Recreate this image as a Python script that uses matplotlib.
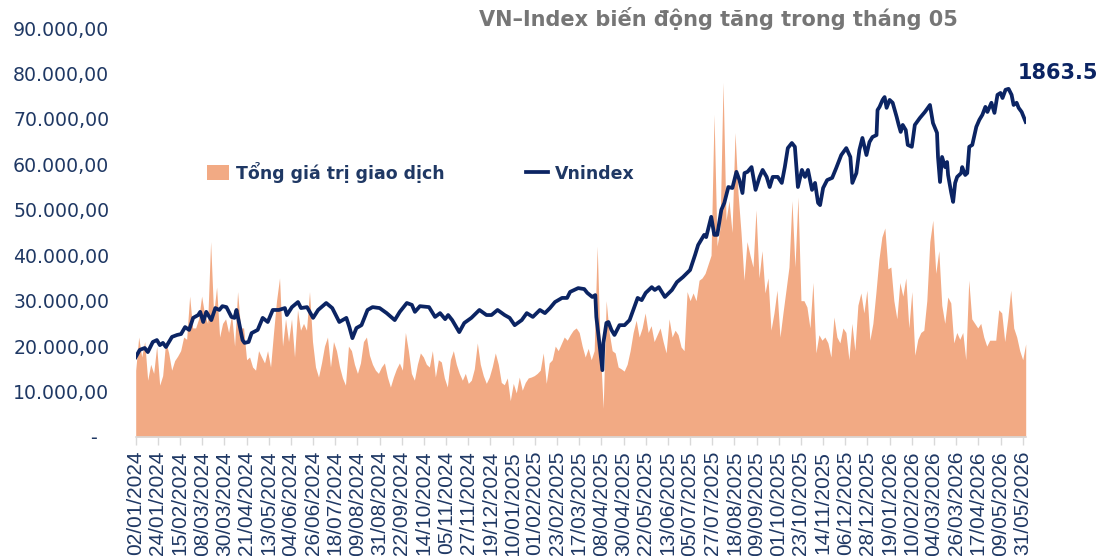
import numpy as np
import pandas as pd
import matplotlib
matplotlib.use("Agg")
import matplotlib.pyplot as plt
from matplotlib.patches import Patch
from matplotlib.lines import Line2D

# ---- data ----
title = "VN–Index biến động tăng trong tháng 05"
label_gtgd = "Tổng giá trị giao dịch"
label_vn = "Vnindex"
start_date = "2024-01-02"
end_date = "2026-06-03"

# trading value (thousand units of the left axis), sampled evenly over the period
gtgd = [14.7, 22, 17.6, 21, 12.5, 16, 14, 20, 11.4, 13.5, 21, 18.5, 14.7, 16.8, 17.8, 19,
        22, 21.5, 31, 24, 24, 26, 31, 27, 25, 43, 27, 33, 22, 25, 26, 23, 27, 20, 32, 24,
        24, 17, 17.6, 15.4, 14.7, 19, 17.6, 16.3, 19, 15.4, 23, 30,
        35, 20, 26, 21, 26, 17.6, 28, 23.5, 25, 23.5, 32, 21, 15.4, 13.2, 16.3, 20, 22, 15.4,
        21, 19, 15.5, 13, 11.4, 20, 19, 16, 14, 16.3, 21, 22, 18, 16, 14.7, 14, 15.4, 16.3,
        13.2, 11, 13.2, 15, 16.3, 14.7, 23, 19, 14, 12.5, 16, 18.5, 17.6, 16,
        15.4, 19, 13.2, 17, 16.5, 13, 11, 17, 19, 16, 14, 12.5, 14, 11.8, 12.5, 15, 20.7, 16,
        13.5, 11.8, 13.2, 15.5, 18.5, 16, 12, 11.5, 13, 8, 11.8, 9.7, 13.2, 10.3, 12, 13,
        13.2, 13.5, 14, 14.7, 18.5, 11.8, 16.3, 17, 20, 19, 20.5, 22, 21.3, 22.5, 23.5, 24,
        23, 20, 17.6, 19.5, 17, 19, 42, 20, 6.3, 30, 23, 19, 18.5, 15.4, 15, 14.5, 16, 19,
        23, 25.7, 22, 24, 27.3, 23, 24.5, 21, 22.5, 24, 21, 18.5, 26, 22, 23.5, 22.5, 19.8,
        19, 32, 30, 31.7, 30, 34.5, 35, 36, 38, 40, 71, 42, 46, 78, 47.7,
        52, 45, 67, 53.7, 45, 34.5, 43, 40, 37.4, 50, 35, 41, 31.7, 35, 23.5, 27.3, 32.3, 22,
        27.3, 32.3, 37.4, 52, 37.4, 52.8, 30, 30, 28.6, 24, 34, 18.5, 22.5, 21.3, 22, 20.7,
        17.6, 26.4, 22, 20.7, 24, 23, 17, 25, 19, 29, 31.7, 27.3, 32.3, 21.3, 25, 31.7,
        39, 44, 46, 37, 37.4, 30, 26, 34, 31, 35, 24, 32, 18, 21.5, 23, 23.5, 30, 43, 47.7,
        36, 41, 29, 25, 30.8, 29.5, 20.7, 23, 21.5, 23, 17, 34.5, 26, 25, 24, 25, 22, 20,
        21.3, 21.3, 21.3, 28, 27.3, 21, 26, 32.3, 24, 22, 19, 17, 20.5]

# VN-Index: days after start_date and closing level
vn_days = [0, 4, 9, 12, 17, 21, 24, 27, 30, 36, 41, 45, 49, 53, 57, 62, 64, 67, 70, 75, 79,
           83, 86, 90, 95, 98, 100, 103, 106, 108, 112, 115, 121, 126, 131, 136, 142,
           148, 150, 155, 161, 164, 170, 176, 181, 189, 195, 202, 209, 212, 215, 219, 224,
           230, 235, 242, 249, 257, 262, 269, 274, 277, 282, 291,
           297, 302, 307, 310, 314, 321, 326, 333, 341, 348, 353, 359, 366, 371, 376, 383,
           388, 394, 401, 406, 411, 416, 423, 428, 431, 435, 439,
           445, 448, 453, 456, 457, 460, 463, 464, 467, 469, 472, 475, 480, 485, 490, 493,
           498, 502, 506, 512, 515, 519, 525, 532, 537, 543, 550, 555, 558, 561, 564, 566,
           571, 574, 577, 581, 584, 588,
           592, 596, 599, 602, 604, 607, 611, 615, 619, 622, 626, 629, 632, 637, 641, 644,
           647, 651, 654, 657, 661, 664, 667, 671, 674, 677, 679, 682, 686, 691, 695, 700,
           705, 709, 711, 715, 718, 721, 725, 728, 731, 735, 736,
           738, 741, 743, 745, 748, 751, 755, 757, 759, 761, 764, 766, 770, 771, 773, 778,
           783, 788, 791, 795, 796, 798, 800, 803, 805, 806, 809, 811, 813, 815, 819, 820,
           823, 825, 827, 830, 834, 837, 840, 843, 845, 849, 852, 855, 858, 860, 863, 866,
           869, 871, 874, 876, 879, 881, 883]
vn_values = [1121, 1144, 1150, 1137, 1169, 1175, 1159, 1166, 1153, 1185, 1191, 1194, 1216,
             1207, 1245, 1254, 1264, 1232, 1264, 1238, 1276, 1270, 1282, 1279, 1248, 1245,
             1270, 1222, 1175, 1166, 1169, 1197, 1207, 1245, 1232, 1270, 1270,
             1276, 1254, 1279, 1295, 1276, 1279, 1245, 1270, 1292, 1276, 1232, 1245, 1216,
             1181, 1213, 1222, 1270, 1279, 1276, 1260, 1238, 1264, 1292, 1286, 1264, 1282, 1279,
             1248, 1260, 1241, 1254, 1238, 1200, 1229, 1245, 1270, 1254, 1254, 1270, 1254,
             1245, 1222, 1238, 1260, 1248, 1270, 1260, 1276, 1295, 1308, 1308, 1327, 1333, 1339,
             1336, 1324, 1311, 1317, 1248, 1166, 1080, 1166, 1229, 1232, 1207, 1191, 1222,
             1222, 1238, 1264, 1308, 1301, 1324, 1342, 1333, 1342, 1311, 1333, 1358, 1374,
             1396, 1444, 1475, 1491, 1507, 1500, 1564, 1507, 1507, 1586, 1608, 1658,
             1655, 1706, 1680, 1639, 1702, 1706, 1721, 1649, 1690, 1712, 1690, 1658, 1690,
             1690, 1671, 1721, 1781, 1797, 1785, 1658, 1712, 1690, 1712, 1649, 1671, 1608,
             1601, 1655, 1680, 1687, 1718, 1759, 1781, 1753, 1671, 1702, 1775, 1813, 1759,
             1800, 1816, 1822, 1901,
             1911, 1933, 1942, 1908, 1933, 1924, 1879, 1854, 1832, 1854, 1838, 1791, 1785,
             1807, 1854, 1876, 1895, 1917, 1860, 1829, 1753, 1674, 1753, 1721, 1737, 1696,
             1642, 1611, 1671, 1690, 1702, 1721, 1696, 1702, 1785, 1791, 1848, 1870, 1886,
             1911, 1895, 1924, 1892, 1949, 1955, 1939, 1965, 1968, 1949, 1917, 1924, 1908,
             1895, 1879, 1863.5]

navy = "#1F3864"
line_col = "#0B2463"
area_col = "#F2AA84"

t0 = pd.Timestamp(start_date)
gt_dates = pd.date_range(start_date, end_date, periods=len(gtgd))
gt_vals = np.array(gtgd) * 1000
vn_dates = t0 + pd.to_timedelta(vn_days, unit="D")

fig = plt.figure(figsize=(11.01, 5.56), dpi=100)
ax = fig.add_axes([135.7 / 1101, 119 / 556, 890 / 1101, 409 / 556])
ax2 = ax.twinx()

ax.fill_between(gt_dates, 0, gt_vals, color=area_col, lw=0)
ax2.plot(vn_dates, vn_values, color=line_col, lw=2.7, solid_joinstyle="round")
ax2.annotate(f"{vn_values[-1]}", (vn_dates[-1], vn_values[-1]), xytext=(-8, 49),
             textcoords="offset pixels", ha="left", va="center",
             fontsize=15, fontweight="bold", color=line_col)

ax.set_xlim(t0, pd.Timestamp(end_date))
ax.set_ylim(0, 90000)
ax2.set_ylim(869, 2160)
ax2.axis("off")

yt = np.arange(0, 90001, 10000)
ax.set_yticks(yt)
ax.set_yticklabels(["-  " if v == 0 else f"{v:,.2f}".replace(",", "X").replace(".", ",").replace("X", ".") for v in yt],
                   fontsize=13.6, color=navy)
ax.tick_params(axis="y", length=0, pad=19)

xt = [t0 + pd.Timedelta(days=22 * k) for k in range(41)]
ax.set_xticks(xt)
ax.set_xticklabels([d.strftime("%d/%m/%Y") for d in xt], rotation=90, fontsize=15,
                   color=navy, family="Liberation Sans")
ax.tick_params(axis="x", length=6, width=1, color="#D9D9D9", pad=4)

for s in ["top", "right", "left"]:
    ax.spines[s].set_visible(False)
ax.spines["bottom"].set_color("#D9D9D9")
ax.spines["bottom"].set_linewidth(1.2)

fig.text(718 / 1101, 1 - 18 / 556, title, ha="center", va="center", fontsize=15,
         fontweight="bold", color="#767676")

handles = [Patch(facecolor=area_col, edgecolor="none"), Line2D([], [], color=line_col, lw=2.7)]
fig.legend(handles, [label_gtgd, label_vn], loc="center left",
           bbox_to_anchor=(207 / 1101, 1 - 172 / 556), ncol=2, frameon=False,
           borderpad=0, borderaxespad=0, handlelength=1.25, handleheight=0.9,
           handletextpad=0.4, columnspacing=4.7,
           prop={"size": 12.5, "weight": "bold"}, labelcolor=navy)

fig.savefig("out.png", dpi=100)
